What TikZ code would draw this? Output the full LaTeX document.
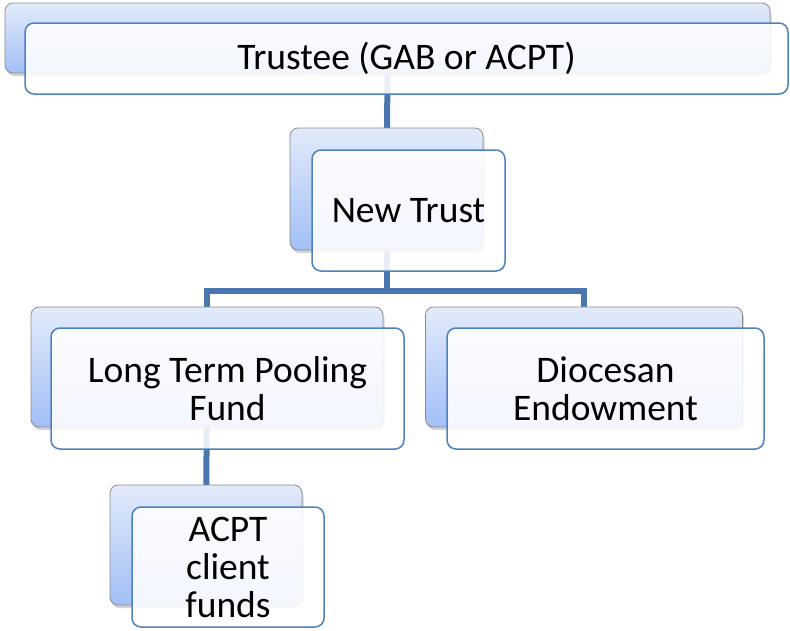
\documentclass[tikz,border=0pt]{standalone}
\usepackage{fontspec}
\setmainfont{Carlito}
\usepackage{tikz}
\usetikzlibrary{shadows, backgrounds}
\definecolor{boxblue}{HTML}{4F81BD}
\definecolor{lineblue}{HTML}{4A76AF}
\definecolor{topfill}{HTML}{E2EBFB}
\definecolor{botfill}{HTML}{A2BFF6}
\tikzstyle{back} = [rectangle, draw=black!45, line width=0.8pt, top color=topfill, bottom color=botfill, rounded corners=8pt, drop shadow={opacity=0.35, shadow xshift=1.5pt, shadow yshift=-3pt}]
\tikzstyle{front} = [rectangle, draw=boxblue, line width=1.5pt, fill=white, fill opacity=0.88, draw opacity=1, text opacity=1, rounded corners=9pt, align=center, font=\fontsize{37.5}{38}\selectfont]
\tikzstyle{line} = [draw=lineblue, line width=6pt]

\begin{document}
\begin{tikzpicture}[x=1pt, y=-1pt]
        \useasboundingbox (0,0) rectangle (790,630);
        % Boxes
        \node [back, minimum width=765pt, minimum height=70pt] (trusteeB) at (387.5,38) {};
        \node [front, minimum width=763pt, minimum height=71pt] (trustee) at (406.5,58.5) {Trustee (GAB or ACPT)};
        \node [back, minimum width=193pt, minimum height=122pt] (newtrustB) at (386.5,189) {};
        \node [front, minimum width=193pt, minimum height=121pt] (newtrust) at (408.5,210.5) {New Trust};
        \node [back, minimum width=352pt, minimum height=120pt] (ltpB) at (207,367) {};
        \node [front, minimum width=353pt, minimum height=121pt] (ltp) at (227.5,388.5) {Long Term Pooling\\Fund};
        \node [back, minimum width=317pt, minimum height=120pt] (dioB) at (584,367) {};
        \node [front, minimum width=317pt, minimum height=121pt] (dio) at (605.5,388.5) {Diocesan\\Endowment};
        \node [back, minimum width=192pt, minimum height=120pt] (acptB) at (206,545) {};
        \node [front, minimum width=192pt, minimum height=120pt] (acpt) at (228,567) {ACPT\\client\\funds};
        \coordinate (split) at (386.5,291);

        % Lines
        \begin{scope}[on background layer]
        \path [line] (trusteeB.center |- trusteeB.south) -- (newtrustB.center);
        \path [line] (newtrustB.center) -- (split) -| (ltpB.center);
        \path [line] (split) -| (dioB.center);
        \path [line] (ltpB.center) -- (acptB.center);
        \end{scope}
    \end{tikzpicture}
\end{document}
